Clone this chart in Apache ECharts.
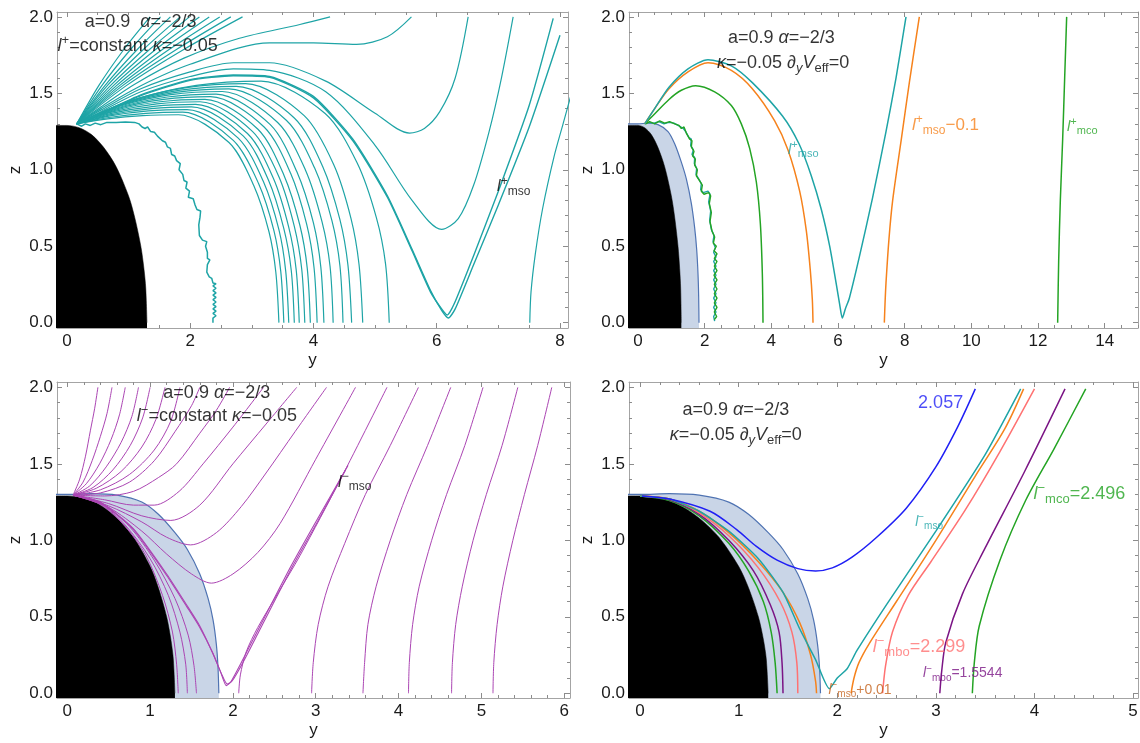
<!DOCTYPE html>
<html>
<head>
<meta charset="utf-8">
<title>Orbit families, a=0.9, α=−2/3</title>
<script src="https://cdn.jsdelivr.net/npm/echarts@6.0.0/dist/echarts.min.js"></script>
<style>
html,body{margin:0;padding:0;background:#ffffff;}
#chart{width:1140px;height:743px;}
</style>
</head>
<body>
<div id="chart"></div>
<script>
// ---------- tick values ----------
const zTicks = [0, 0.5, 1, 1.5, 2];
const p1XTicks = [0, 2, 4, 6, 8];
const p2XTicks = [0, 2, 4, 6, 8, 10, 12, 14];
const p3XTicks = [0, 1, 2, 3, 4, 5, 6];
const p4XTicks = [0, 1, 2, 3, 4, 5];

// ---------- shared regions: horizon (black) and allowed region (light blue) ----------
const horizon = [[-0.35,1.29],[0,1.29],[0.2,1.275],[0.4,1.23],[0.6,1.145],[0.8,1.02],[1.0,0.83],[1.1,0.69],[1.2,0.50],[1.25,0.355],[1.28,0.225],[1.3,0]];
const ergoBound = [[-0.35,1.30],[0,1.30],[0.3,1.305],[0.6,1.295],[0.9,1.25],[1.1,1.17],[1.3,1.05],[1.45,0.94],[1.6,0.78],[1.7,0.62],[1.76,0.48],[1.8,0.32],[1.82,0.17],[1.83,0]];

// ---------- panel 1: l+ = constant ----------
const p1Fan = [
  [[0.16,1.30],[0.52,1.552],[0.93,1.79],[1.35,2.0]],
  [[0.16,1.30],[0.57,1.552],[1.04,1.79],[1.52,2.0]],
  [[0.16,1.30],[0.62,1.552],[1.15,1.79],[1.68,2.0]],
  [[0.16,1.30],[0.66,1.552],[1.25,1.79],[1.84,2.0]],
  [[0.16,1.30],[0.71,1.552],[1.35,1.79],[1.99,2.0]],
  [[0.16,1.30],[0.76,1.552],[1.45,1.79],[2.15,2.0]],
  [[0.16,1.30],[0.81,1.552],[1.56,1.79],[2.31,2.0]],
  [[0.16,1.30],[0.86,1.552],[1.67,1.79],[2.48,2.0]],
  [[0.16,1.30],[0.91,1.552],[1.79,1.79],[2.66,2.0]],
  [[0.16,1.30],[0.97,1.552],[1.91,1.79],[2.85,2.0]]
];
const p1Arcs = [
  [[0.16,1.30],[0.66,1.333],[1.23,1.354],[1.81,1.36],[2.63,1.178],[3.03,0.899],[3.28,0.593],[3.39,0.330],[3.44,0]],
  [[0.16,1.30],[0.68,1.342],[1.28,1.369],[1.88,1.377],[2.70,1.192],[3.11,0.910],[3.36,0.600],[3.47,0.335],[3.52,0]],
  [[0.16,1.30],[0.70,1.352],[1.32,1.385],[1.95,1.394],[2.78,1.207],[3.19,0.921],[3.44,0.608],[3.55,0.339],[3.60,0]],
  [[0.16,1.30],[0.72,1.361],[1.37,1.400],[2.02,1.411],[2.86,1.222],[3.27,0.933],[3.52,0.615],[3.64,0.343],[3.69,0]],
  [[0.16,1.30],[0.74,1.370],[1.41,1.415],[2.09,1.428],[2.93,1.237],[3.35,0.944],[3.60,0.623],[3.72,0.347],[3.77,0]],
  [[0.16,1.30],[0.76,1.380],[1.46,1.431],[2.16,1.445],[3.01,1.251],[3.44,0.955],[3.69,0.630],[3.81,0.351],[3.86,0]],
  [[0.16,1.30],[0.78,1.389],[1.51,1.445],[2.24,1.461],[3.10,1.265],[3.52,0.966],[3.78,0.637],[3.90,0.355],[3.95,0]],
  [[0.16,1.30],[0.81,1.398],[1.57,1.460],[2.33,1.478],[3.20,1.280],[3.63,0.977],[3.89,0.644],[4.01,0.359],[4.06,0]],
  [[0.16,1.30],[0.84,1.407],[1.63,1.476],[2.42,1.495],[3.30,1.295],[3.73,0.988],[4.00,0.652],[4.12,0.363],[4.17,0]],
  [[0.16,1.30],[0.87,1.417],[1.69,1.491],[2.52,1.512],[3.42,1.309],[3.87,0.999],[4.14,0.659],[4.27,0.367],[4.32,0]],
  [[0.16,1.30],[0.90,1.426],[1.77,1.506],[2.63,1.529],[3.56,1.324],[4.02,1.011],[4.30,0.667],[4.43,0.372],[4.48,0]],
  [[0.16,1.30],[0.94,1.435],[1.84,1.521],[2.75,1.546],[3.69,1.339],[4.15,1.022],[4.43,0.674],[4.56,0.376],[4.62,0]],
  [[0.16,1.30],[0.98,1.445],[1.94,1.537],[2.90,1.563],[3.85,1.354],[4.33,1.033],[4.61,0.681],[4.74,0.380],[4.80,0]],
  [[0.16,1.30],[1.06,1.454],[2.10,1.552],[3.15,1.58],[4.19,1.368],[4.71,1.044],[5.02,0.689],[5.17,0.384],[5.23,0]]
];
const p1Open = [
  [[0.16,1.30],[0.55,1.41],[1.1,1.56],[1.9,1.73],[2.8,1.86],[3.78,1.95],[4.27,2.0]],
  [[0.16,1.30],[0.55,1.40],[1.2,1.55],[2.0,1.69],[3.29,1.83],[4.0,1.83],[4.7,1.82],[5.2,1.87],[5.59,2.0]],
  [[0.16,1.30],[0.55,1.39],[1.2,1.53],[2.0,1.64],[2.7,1.70],[3.29,1.70],[4.2,1.58],[5.0,1.37],[5.56,1.24],[5.8,1.27],[6.05,1.38],[6.3,1.60],[6.51,2.0]],
  [[0.16,1.30],[0.55,1.38],[1.2,1.51],[2.0,1.61],[2.7,1.66],[3.29,1.65],[4.2,1.51],[5.0,1.16],[5.6,0.80],[6.08,0.61],[6.35,0.68],[6.6,0.90],[6.85,1.25],[7.05,1.60],[7.24,2.0]]
];
const p1Mso = [
  [[0.16,1.30],[0.55,1.37],[1.2,1.49],[2.0,1.59],[2.7,1.62],[3.29,1.61],[4.0,1.48],[4.64,1.20],[5.2,0.83],[5.6,0.48],[5.9,0.21],[6.08,0.08],[6.19,0.03],[6.3,0.09],[6.6,0.38],[7.0,0.77],[7.5,1.28],[8.0,1.88]],
  [[0.16,1.30],[0.55,1.368],[1.2,1.485],[2.0,1.585],[2.7,1.615],[3.29,1.605],[4.0,1.47],[4.64,1.19],[5.2,0.82],[5.6,0.47],[5.9,0.20],[6.08,0.09],[6.17,0.05],[6.28,0.12],[6.6,0.44],[7.0,0.86],[7.5,1.42],[7.89,1.99]]
];
const p1Outer = [[7.51,0],[7.53,0.2],[7.6,0.45],[7.72,0.75],[7.9,1.08],[8.05,1.3],[8.2,1.52]];
const p1Noisy = [[0.16,1.30],[0.24,1.285],[0.30,1.30],[0.38,1.29],[0.46,1.305],[0.55,1.295],[0.65,1.31],[0.8,1.31],[0.95,1.312],[1.1,1.31],[1.17,1.30],[1.22,1.28],[1.27,1.27],[1.31,1.28],[1.36,1.25],[1.42,1.245],[1.47,1.22],[1.5,1.23],[1.55,1.19],[1.6,1.18],[1.63,1.15],[1.68,1.14],[1.70,1.10],[1.75,1.09],[1.78,1.06],[1.84,1.04],[1.82,1.0],[1.88,0.97],[1.90,0.93],[1.95,0.92],[1.93,0.88],[1.99,0.86],[1.97,0.82],[2.05,0.81],[2.08,0.77],[2.11,0.74],[2.17,0.73],[2.16,0.69],[2.14,0.64],[2.15,0.57],[2.2,0.54],[2.27,0.53],[2.25,0.50],[2.28,0.46],[2.3,0.46],[2.28,0.42],[2.32,0.41],[2.28,0.38],[2.27,0.33],[2.31,0.30],[2.35,0.29],[2.37,0.26],[2.42,0.255],[2.37,0.24],[2.42,0.225],[2.37,0.21],[2.42,0.195],[2.37,0.18],[2.42,0.165],[2.37,0.15],[2.42,0.135],[2.37,0.12],[2.42,0.105],[2.37,0.09],[2.42,0.075],[2.37,0.06],[2.42,0.045],[2.37,0.03],[2.37,0.0]];

// ---------- panel 2: dy Veff = 0, l+ ----------
const p2Cyan = [[0.2,1.30],[0.5,1.40],[0.93,1.54],[1.5,1.66],[2.1,1.72],[2.8,1.68],[3.43,1.57],[4.34,1.35],[4.83,1.17],[5.2,0.96],[5.5,0.74],[5.75,0.50],[5.95,0.25],[6.05,0.12],[6.13,0.03],[6.22,0.09],[6.34,0.16],[6.64,0.43],[7.04,0.82],[7.44,1.25],[7.74,1.60],[8.04,2.0]];
const p2Orange = [[0.2,1.30],[0.5,1.40],[0.93,1.53],[1.5,1.64],[2.1,1.70],[2.8,1.65],[3.43,1.53],[4.1,1.32],[4.5,1.13],[4.85,0.86],[5.05,0.60],[5.17,0.34],[5.23,0.15],[5.25,0]];
const p2Green = [[0.2,1.30],[0.43,1.35],[0.93,1.46],[1.3,1.52],[1.73,1.55],[2.3,1.51],[2.8,1.42],[3.1,1.30],[3.35,1.14],[3.55,0.92],[3.67,0.65],[3.73,0.32],[3.75,0]];
const p2OrangeOuter = [[7.39,0],[7.41,0.12],[7.44,0.26],[7.53,0.55],[7.64,0.80],[7.9,1.20],[8.14,1.57],[8.44,2.0]];
const p2GreenOuter = [[12.59,0],[12.62,0.4],[12.67,0.80],[12.74,1.2],[12.8,1.6],[12.86,2.0]];
const p2NoisyGreen = [[0.23,1.30],[0.35,1.315],[0.5,1.30],[0.65,1.32],[0.8,1.305],[0.95,1.315],[1.1,1.30],[1.23,1.29],[1.3,1.27],[1.38,1.28],[1.45,1.24],[1.5,1.25],[1.55,1.20],[1.62,1.19],[1.6,1.15],[1.68,1.12],[1.64,1.09],[1.72,1.07],[1.7,1.03],[1.78,1.0],[1.75,0.96],[1.84,0.93],[1.93,0.90],[1.9,0.86],[1.98,0.84],[2.12,0.85],[2.18,0.83],[2.14,0.78],[2.2,0.72],[2.16,0.66],[2.22,0.60],[2.3,0.56],[2.26,0.52],[2.35,0.50],[2.28,0.47],[2.37,0.45],[2.29,0.42],[2.37,0.40],[2.29,0.37],[2.37,0.34],[2.28,0.31],[2.37,0.28],[2.29,0.25],[2.37,0.22],[2.29,0.19],[2.37,0.16],[2.29,0.13],[2.37,0.10],[2.29,0.07],[2.36,0.04],[2.29,0.02]];
const p2NoisyCyan = [[0.2,1.30],[0.32,1.31],[0.48,1.305],[0.62,1.315],[0.78,1.30],[0.92,1.31],[1.08,1.305],[1.2,1.29],[1.28,1.28],[1.36,1.27],[1.43,1.25],[1.49,1.24],[1.53,1.21],[1.6,1.20],[1.58,1.16],[1.66,1.13],[1.62,1.10],[1.7,1.08],[1.69,1.04],[1.76,1.01],[1.74,0.97],[1.82,0.94],[1.9,0.91],[1.88,0.87],[1.96,0.85],[2.1,0.86],[2.16,0.84],[2.12,0.79],[2.18,0.73],[2.15,0.67],[2.2,0.61],[2.28,0.57],[2.25,0.53],[2.32,0.49],[2.27,0.46],[2.34,0.43],[2.27,0.40],[2.34,0.37],[2.27,0.34],[2.34,0.31],[2.27,0.28],[2.34,0.25],[2.27,0.22],[2.34,0.19],[2.27,0.16],[2.34,0.13],[2.27,0.10],[2.34,0.07],[2.27,0.04],[2.3,0.01]];

// ---------- panel 3: l- = constant ----------
const p3Fan = [
  [[0.07,1.295],[0.15,1.40],[0.22,1.55],[0.28,1.72],[0.33,1.86],[0.37,2.0]],
  [[0.07,1.295],[0.19,1.38],[0.30,1.52],[0.40,1.68],[0.48,1.83],[0.54,2.0]],
  [[0.07,1.295],[0.23,1.37],[0.39,1.50],[0.53,1.66],[0.63,1.82],[0.70,2.0]],
  [[0.07,1.295],[0.27,1.355],[0.47,1.48],[0.65,1.64],[0.78,1.81],[0.86,2.0]],
  [[0.07,1.295],[0.31,1.345],[0.55,1.46],[0.76,1.62],[0.91,1.80],[1.0,2.0]],
  [[0.07,1.295],[0.35,1.34],[0.65,1.45],[0.90,1.61],[1.07,1.79],[1.18,2.0]],
  [[0.07,1.295],[0.40,1.33],[0.75,1.43],[1.05,1.59],[1.25,1.78],[1.36,2.0]],
  [[0.07,1.295],[0.40,1.31],[0.75,1.38],[1.05,1.52],[1.30,1.71],[1.50,1.88],[1.60,2.0]],
  [[0.07,1.295],[0.45,1.29],[0.80,1.32],[1.10,1.41],[1.32,1.50],[1.60,1.70],[1.80,1.85],[1.96,2.0]],
  [[0.07,1.295],[0.45,1.265],[0.80,1.23],[1.05,1.23],[1.35,1.32],[1.64,1.50],[2.0,1.74],[2.37,2.0]],
  [[0.07,1.295],[0.50,1.24],[0.90,1.16],[1.25,1.13],[1.60,1.23],[2.0,1.50],[2.40,1.76],[2.77,2.0]],
  [[0.07,1.295],[0.50,1.225],[0.90,1.12],[1.20,1.02],[1.49,0.97],[1.80,1.05],[2.10,1.22],[2.40,1.44],[2.75,1.71],[3.13,2.0]],
  [[0.07,1.295],[0.50,1.215],[0.90,1.06],[1.20,0.91],[1.50,0.78],[1.74,0.72],[2.0,0.78],[2.30,0.92],[2.57,1.11],[3.0,1.53],[3.48,2.0]]
];
const p3Inner = [
  [[0.07,1.295],[0.4,1.235],[0.7,1.09],[0.95,0.90],[1.15,0.64],[1.27,0.40],[1.32,0.19],[1.34,0]],
  [[0.07,1.295],[0.4,1.24],[0.7,1.10],[1.0,0.88],[1.22,0.64],[1.36,0.40],[1.43,0.19],[1.45,0]],
  [[0.07,1.295],[0.4,1.245],[0.75,1.09],[1.05,0.87],[1.3,0.62],[1.46,0.38],[1.53,0.18],[1.56,0]]
];
const p3Mso = [
  [[0.07,1.295],[0.4,1.25],[0.8,1.075],[1.2,0.78],[1.45,0.57],[1.6,0.44],[1.75,0.27],[1.85,0.14],[1.92,0.05],[1.97,0.07],[2.1,0.2],[2.3,0.41],[2.7,0.83],[3.0,1.12],[3.39,1.49]],
  [[0.07,1.295],[0.4,1.245],[0.8,1.07],[1.2,0.77],[1.45,0.56],[1.6,0.43],[1.76,0.26],[1.86,0.13],[1.93,0.06],[1.99,0.08],[2.12,0.2],[2.32,0.41],[2.72,0.83],[3.02,1.12],[3.36,1.46]]
];
const p3Rising = [
  [[2.07,0],[2.09,0.12],[2.16,0.27],[2.3,0.43],[2.55,0.66],[2.81,0.90],[3.3,1.40],[3.86,2.0]],
  [[2.95,0],[2.97,0.2],[3.03,0.45],[3.15,0.7],[3.35,0.98],[3.6,1.3],[3.9,1.62],[4.24,2.0]],
  [[3.57,0],[3.59,0.2],[3.63,0.45],[3.73,0.7],[3.9,1.0],[4.1,1.3],[4.35,1.62],[4.63,2.0]],
  [[4.12,0],[4.13,0.2],[4.17,0.45],[4.25,0.7],[4.4,1.0],[4.58,1.3],[4.8,1.62],[5.02,2.0]],
  [[4.64,0],[4.65,0.2],[4.69,0.45],[4.77,0.7],[4.9,1.0],[5.06,1.3],[5.25,1.62],[5.44,2.0]],
  [[5.14,0],[5.15,0.2],[5.19,0.45],[5.26,0.7],[5.38,1.0],[5.52,1.3],[5.68,1.62],[5.85,2.0]]
];

// ---------- panel 4: dy Veff = 0, l- ----------
const p4Blue = [[0.02,1.29],[0.30,1.27],[0.71,1.19],[0.98,1.07],[1.18,0.96],[1.39,0.87],[1.6,0.815],[1.78,0.80],[1.95,0.82],[2.15,0.89],[2.4,1.02],[2.70,1.21],[3.0,1.48],[3.22,1.74],[3.40,1.99]];
const p4Cyan = [[0,1.29],[0.3,1.27],[0.6,1.19],[0.9,1.06],[1.2,0.88],[1.45,0.66],[1.62,0.42],[1.78,0.22],[1.92,0.03],[2.0,0.10],[2.1,0.16],[2.2,0.28],[2.5,0.58],[3.0,1.06],[3.5,1.56],[3.86,1.99]];
const p4OrangeIn = [[0,1.29],[0.3,1.27],[0.6,1.19],[0.9,1.05],[1.2,0.86],[1.45,0.66],[1.62,0.46],[1.73,0.25],[1.78,0.08],[1.79,0]];
const p4OrangeOut = [[2.14,0],[2.17,0.1],[2.22,0.2],[2.32,0.32],[2.6,0.6],[3.0,1.0],[3.4,1.42],[3.7,1.73],[3.89,1.99]];
const p4SalmonIn = [[0,1.29],[0.3,1.27],[0.6,1.18],[0.9,1.03],[1.2,0.82],[1.42,0.6],[1.54,0.4],[1.59,0.2],[1.60,0]];
const p4SalmonOut = [[2.46,0],[2.49,0.18],[2.56,0.40],[2.72,0.64],[2.95,0.86],[3.3,1.2],[3.65,1.58],[4.0,1.99]];
const p4PurpleIn = [[0,1.29],[0.3,1.265],[0.6,1.17],[0.9,1.0],[1.15,0.80],[1.32,0.58],[1.41,0.40],[1.44,0.2],[1.45,0]];
const p4PurpleOut = [[3.04,0],[3.06,0.15],[3.10,0.33],[3.27,0.65],[3.5,0.95],[3.9,1.45],[4.31,1.99]];
const p4GreenIn = [[0,1.29],[0.3,1.26],[0.6,1.16],[0.9,0.98],[1.1,0.80],[1.25,0.60],[1.33,0.40],[1.37,0.2],[1.39,0]];
const p4GreenOut = [[3.37,0],[3.39,0.2],[3.44,0.44],[3.65,0.87],[3.91,1.26],[4.2,1.6],[4.52,1.99]];

// ---------- annotation text ----------
const txtParams2 = '{n|a=0.9  }{i|α}{n|=−2/3}';
const txtParams = '{n|a=0.9 }{i|α}{n|=−2/3}';
const txtLplus = '{i|l}{sp|+}{n|=constant }{i|κ}{n|=−0.05}';
const txtLminus = '{i|l}{sp|−}{n|=constant }{i|κ}{n|=−0.05}';
const txtKappa = '{i|κ}{n|=−0.05 ∂}{sbi|y}{i|V}{sb|eff}{n|=0}';

// ---------- styling ----------
const FONT = '"Liberation Sans", Arial, Helvetica, sans-serif';
const FRAME = '#a4a4a4';
const TICKC = '#8c8c8c';
const TEAL = '#1ea4a6';
const ORANGE = '#f6821c';
const GREEN = '#24a424';
const MAGENTA = '#ab45b3';
const BLUE = '#1f1ff5';
const SALMON = '#ff7272';
const PURPLE = '#7b1585';
const REGION_FILL = '#c9d5e7';
const REGION_LINE = '#4f73b2';

const panels = [
  {grid:{left:57, top:12, width:511, height:316}, xr:[-0.16,8.13], zr:[-0.035,2.032], xt:p1XTicks, xStep:2, xSub:4},
  {grid:{left:629, top:12, width:509, height:316}, xr:[-0.27,15.0], zr:[-0.035,2.032], xt:p2XTicks, xStep:2, xSub:4},
  {grid:{left:57, top:382, width:513, height:316}, xr:[-0.124,6.07], zr:[-0.031,2.035], xt:p3XTicks, xStep:1, xSub:5},
  {grid:{left:629, top:382, width:509, height:316}, xr:[-0.112,5.05], zr:[-0.031,2.035], xt:p4XTicks, xStep:1, xSub:5}
];

function minorTicks(step, sub, lo, hi) {
  const d = step / sub, out = [];
  for (let k = Math.ceil(lo / d); k * d <= hi + 1e-9; k++) {
    if (k % sub !== 0) out.push(+(k * d).toFixed(6));
  }
  return out;
}

function makeAxis(g, position, range, ticks, len, showLine, label, name) {
  const ax = {
    type: 'value', gridIndex: g, position: position, min: range[0], max: range[1],
    axisLine: {show: showLine, onZero: false, lineStyle: {color: FRAME, width: 1}},
    axisTick: {show: true, inside: true, length: len, customValues: ticks, lineStyle: {color: TICKC, width: 1}},
    minorTick: {show: false},
    axisLabel: label ? Object.assign({show: true, customValues: ticks, color: '#1a1a1a', fontSize: 17, fontFamily: FONT, margin: 5}, label) : {show: false},
    splitLine: {show: false}, splitArea: {show: false}
  };
  if (name) Object.assign(ax, name);
  return ax;
}

const xAxes = [], yAxes = [], mainX = [], mainY = [];
panels.forEach((p, g) => {
  const xm = minorTicks(p.xStep, p.xSub, p.xr[0], p.xr[1]);
  const zm = minorTicks(0.5, 5, p.zr[0], p.zr[1]);
  const nameStyle = {fontSize: 17, fontFamily: FONT, color: '#1a1a1a'};
  mainX.push(xAxes.length);
  xAxes.push(makeAxis(g, 'bottom', p.xr, p.xt, 5, true, {formatter: v => String(v)},
    {name: 'y', nameLocation: 'middle', nameGap: 24, nameTextStyle: nameStyle}));
  xAxes.push(makeAxis(g, 'bottom', p.xr, xm, 3, false));
  xAxes.push(makeAxis(g, 'top', p.xr, p.xt, 5, true));
  xAxes.push(makeAxis(g, 'top', p.xr, xm, 3, false));
  mainY.push(yAxes.length);
  yAxes.push(makeAxis(g, 'left', p.zr, zTicks, 5, true, {formatter: v => v.toFixed(1), margin: 4},
    {name: 'z', nameLocation: 'middle', nameGap: 33, nameTextStyle: nameStyle}));
  yAxes.push(makeAxis(g, 'left', p.zr, zm, 3, false));
  yAxes.push(makeAxis(g, 'right', p.zr, zTicks, 5, true));
  yAxes.push(makeAxis(g, 'right', p.zr, zm, 3, false));
});

const series = [];
function curve(g, data, color, width, smooth, z) {
  series.push({
    type: 'line', xAxisIndex: mainX[g], yAxisIndex: mainY[g], data: data,
    symbol: 'none', showSymbol: false, smooth: smooth, clip: true, silent: true,
    lineStyle: {color: color, width: width}, z: z || 3
  });
}
function region(g, data, fill, line, lineWidth, z) {
  series.push({
    type: 'line', xAxisIndex: mainX[g], yAxisIndex: mainY[g], data: data,
    symbol: 'none', showSymbol: false, smooth: 0.3, clip: true, silent: true,
    lineStyle: {color: line, width: lineWidth},
    areaStyle: {color: fill, opacity: 1, origin: 'start'}, z: z
  });
}
function rich(s) {
  const sub = Math.round(s * 0.72);
  const lh = Math.round(s * 1.35);
  return {
    n: {fontSize: s, fontFamily: FONT, lineHeight: lh},
    i: {fontSize: s, fontFamily: FONT, fontStyle: 'italic', lineHeight: lh},
    sp: {fontSize: sub, fontFamily: FONT, lineHeight: sub, verticalAlign: 'top'},
    sb: {fontSize: sub, fontFamily: FONT, lineHeight: sub, verticalAlign: 'bottom'},
    sbi: {fontSize: sub, fontFamily: FONT, fontStyle: 'italic', lineHeight: sub, verticalAlign: 'bottom'}
  };
}
function labels(g, items) {
  series.push({
    type: 'scatter', xAxisIndex: mainX[g], yAxisIndex: mainY[g], symbolSize: 0, silent: true, z: 10,
    itemStyle: {color: 'rgba(0,0,0,0)'},
    data: items.map(it => ({
      value: it[0],
      label: {show: true, position: [0, 0], align: 'left', verticalAlign: 'middle',
              formatter: it[1], color: it[2], fontSize: it[3], fontFamily: FONT, rich: rich(it[3])}
    }))
  });
}

// panel 1
region(0, horizon, '#000000', '#000000', 0.5, 2);
p1Arcs.forEach(d => curve(0, d, TEAL, 1.2, 0.3));
p1Fan.forEach(d => curve(0, d, TEAL, 1.2, 0.3));
p1Open.forEach(d => curve(0, d, TEAL, 1.2, 0.3));
curve(0, p1Outer, TEAL, 1.2, 0.3);
p1Mso.forEach(d => curve(0, d, TEAL, 1.4, 0.2));
curve(0, p1Noisy, TEAL, 1.5, false);
labels(0, [
  [[0.29, 1.967], txtParams2, '#000', 18],
  [[-0.15, 1.81], txtLplus, '#000', 18],
  [[6.98, 0.89], '{i|l}{sp|+}{sb|mso}', '#000', 16]
]);

// panel 2
region(1, ergoBound, REGION_FILL, REGION_LINE, 1.2, 1);
region(1, horizon, '#000000', '#000000', 0.5, 2);
curve(1, p2NoisyCyan, TEAL, 1.4, false);
curve(1, p2NoisyGreen, GREEN, 1.4, false);
curve(1, p2Green, GREEN, 1.5, 0.3);
curve(1, p2Orange, ORANGE, 1.5, 0.3);
curve(1, p2Cyan, TEAL, 1.5, 0.25);
curve(1, p2OrangeOuter, ORANGE, 1.5, 0.3);
curve(1, p2GreenOuter, GREEN, 1.5, 0.3);
labels(1, [
  [[2.70, 1.86], txtParams, '#000', 18],
  [[2.37, 1.70], txtKappa, '#000', 18],
  [[4.50, 1.13], '{i|l}{sp|+}{sb|mso}', TEAL, 15],
  [[8.22, 1.29], '{i|l}{sp|+}{sb|mso}{n|−0.1}', ORANGE, 17],
  [[12.87, 1.28], '{i|l}{sp|+}{sb|mco}', GREEN, 15]
]);

// panel 3
region(2, ergoBound, REGION_FILL, REGION_LINE, 1.2, 1);
region(2, horizon, '#000000', '#000000', 0.5, 2);
p3Fan.forEach(d => curve(2, d, MAGENTA, 1.0, 0.3));
p3Inner.forEach(d => curve(2, d, MAGENTA, 1.0, 0.3));
p3Rising.forEach(d => curve(2, d, MAGENTA, 1.0, 0.3));
p3Mso.forEach(d => curve(2, d, MAGENTA, 1.1, 0.2));
labels(2, [
  [[1.16, 1.96], txtParams, '#000', 18],
  [[0.84, 1.815], txtLminus, '#000', 18],
  [[3.27, 1.38], '{i|l}{sp|−}{sb|mso}', '#000', 16]
]);

// panel 4
region(3, ergoBound, REGION_FILL, REGION_LINE, 1.2, 1);
region(3, horizon, '#000000', '#000000', 0.5, 2);
curve(3, p4GreenIn, GREEN, 1.5, 0.3);
curve(3, p4PurpleIn, PURPLE, 1.5, 0.3);
curve(3, p4SalmonIn, SALMON, 1.5, 0.3);
curve(3, p4OrangeIn, ORANGE, 1.5, 0.3);
curve(3, p4Cyan, TEAL, 1.5, 0.2);
curve(3, p4OrangeOut, ORANGE, 1.5, 0.3);
curve(3, p4SalmonOut, SALMON, 1.5, 0.3);
curve(3, p4PurpleOut, PURPLE, 1.5, 0.3);
curve(3, p4GreenOut, GREEN, 1.5, 0.3);
curve(3, p4Blue, BLUE, 1.5, 0.3);
labels(3, [
  [[0.43, 1.85], txtParams, '#000', 18],
  [[0.30, 1.69], txtKappa, '#000', 18],
  [[2.82, 1.90], '{n|2.057}', BLUE, 18],
  [[2.79, 1.12], '{i|l}{sp|−}{sb|mso}', TEAL, 14],
  [[3.99, 1.30], '{i|l}{sp|−}{sb|mco}{n|=2.496}', GREEN, 18],
  [[2.36, 0.30], '{i|l}{sp|−}{sb|mbo}{n|=2.299}', SALMON, 18],
  [[2.87, 0.13], '{i|l}{sp|−}{sb|mbo}{n|=1.5544}', PURPLE, 14],
  [[1.91, 0.02], '{i|l}{sp|−}{sb|mso}{n|+0.01}', '#c4621c', 14]
]);

const chart = echarts.init(document.getElementById('chart'), null, {renderer: 'canvas'});
chart.setOption({
  animation: false,
  backgroundColor: '#ffffff',
  grid: panels.map(p => Object.assign({containLabel: false, outerBoundsMode: 'none'}, p.grid)),
  xAxis: xAxes,
  yAxis: yAxes,
  series: series
});
</script>
</body>
</html>
